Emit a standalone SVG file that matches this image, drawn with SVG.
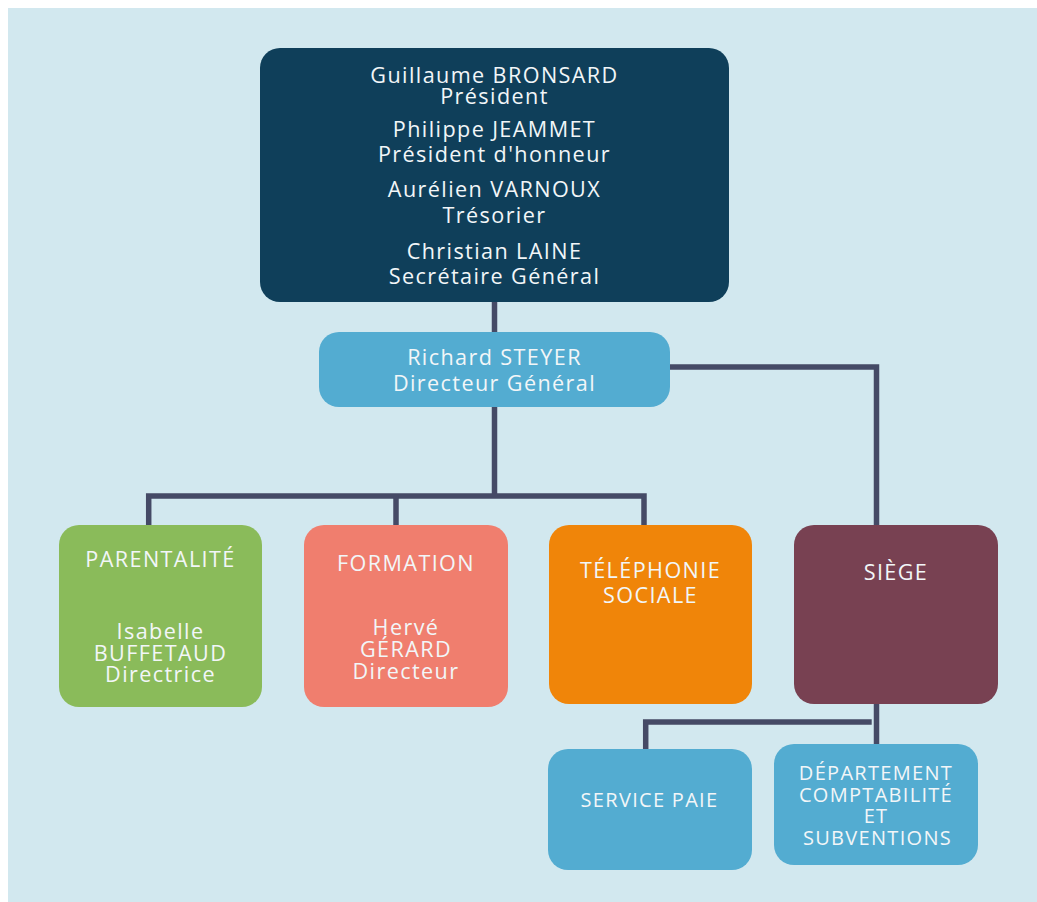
<svg xmlns="http://www.w3.org/2000/svg" width="1037" height="902" viewBox="0 0 1037 902">
<style>
.t{font-family:"Open Sans","Noto Sans","Liberation Sans",sans-serif;font-size:21.6px;fill:#f2f6f8;text-anchor:middle;letter-spacing:1.4px}
.s{font-size:20px;letter-spacing:1.3px}
.c{fill:none;stroke:#454a66;stroke-width:5.5;stroke-linejoin:miter}
</style>
<rect x="0" y="0" width="1037" height="902" fill="#ffffff"/>
<rect x="8" y="8" width="1029" height="894" fill="#d2e8ef"/>
<g id="connectors">
<path class="c" d="M494.5 302 V332"/>
<path class="c" d="M494.5 407 V496"/>
<path class="c" d="M148.7 525 V496 H644 V525"/>
<path class="c" d="M396 496 V525"/>
<path class="c" d="M670 367 H876.5 V525"/>
<path class="c" d="M876.5 704 V744"/>
<path class="c" d="M871.7 722 H645.7 V749"/>
</g>
<g id="board">
<rect x="260" y="48" width="469" height="254" rx="20" fill="#0f3f5a"/>
<text class="t"><tspan x="494.5" y="82.7">Guillaume BRONSARD</tspan><tspan x="494.5" y="104.3">Président</tspan></text>
<text class="t"><tspan x="494.5" y="136.7">Philippe JEAMMET</tspan><tspan x="494.5" y="161.7">Président d'honneur</tspan></text>
<text class="t"><tspan x="494.5" y="197.3">Aurélien VARNOUX</tspan><tspan x="494.5" y="222.7">Trésorier</tspan></text>
<text class="t"><tspan x="494.5" y="259">Christian LAINE</tspan><tspan x="494.5" y="284">Secrétaire Général</tspan></text>
</g>
<g id="dg">
<rect x="319" y="332" width="351" height="75" rx="20" fill="#53acd1"/>
<text class="t"><tspan x="494.5" y="365">Richard STEYER</tspan><tspan x="494.5" y="391">Directeur Général</tspan></text>
</g>
<g id="parentalite">
<rect x="59" y="525" width="203" height="182" rx="20" fill="#8abb5a"/>
<text class="t" x="160.5" y="567.3">PARENTALITÉ</text>
<text class="t"><tspan x="160.5" y="639.3">Isabelle</tspan><tspan x="160.5" y="660.7">BUFFETAUD</tspan><tspan x="160.5" y="682">Directrice</tspan></text>
</g>
<g id="formation">
<rect x="304" y="525" width="204" height="182" rx="20" fill="#f07e6e"/>
<text class="t" x="406" y="571">FORMATION</text>
<text class="t"><tspan x="406" y="635">Hervé</tspan><tspan x="406" y="656.7">GÉRARD</tspan><tspan x="406" y="678.7">Directeur</tspan></text>
</g>
<g id="telephonie">
<rect x="549" y="525" width="203" height="179" rx="20" fill="#f08509"/>
<text class="t"><tspan x="650.5" y="578">TÉLÉPHONIE</tspan><tspan x="650.5" y="603.3">SOCIALE</tspan></text>
</g>
<g id="siege">
<rect x="794" y="525" width="204" height="179" rx="20" fill="#784152"/>
<text class="t" x="896" y="580.3">SIÈGE</text>
</g>
<g id="paie">
<rect x="548" y="749" width="204" height="121" rx="20" fill="#53acd1"/>
<text class="t s" x="649.5" y="807">SERVICE PAIE</text>
</g>
<g id="comptabilite">
<rect x="774" y="744" width="204" height="121" rx="20" fill="#53acd1"/>
<text class="t s"><tspan x="876" y="780">DÉPARTEMENT</tspan><tspan x="876" y="801.7">COMPTABILITÉ</tspan><tspan x="876" y="823.3">ET</tspan><tspan x="877.5" y="845.3">SUBVENTIONS</tspan></text>
</g>
</svg>
